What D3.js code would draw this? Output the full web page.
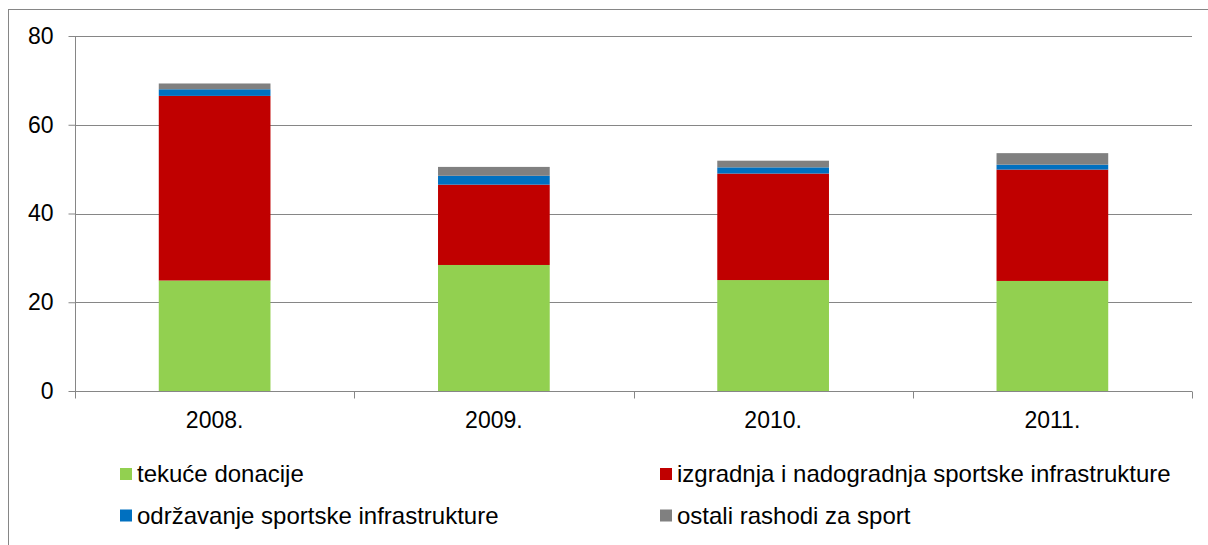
<!DOCTYPE html>
<html><head><meta charset="utf-8">
<script src="https://cdn.jsdelivr.net/npm/d3@7"></script>
<style>body{margin:0;background:#fff;overflow:hidden}svg{display:block;font-family:"Liberation Sans",Arial,sans-serif}</style>
</head><body><svg id="c" width="1208" height="545"></svg>
<script>
const categories = ["2008.", "2009.", "2010.", "2011."];
const seriesNames = ["tekuće donacije", "izgradnja i nadogradnja sportske infrastrukture", "održavanje sportske infrastrukture", "ostali rashodi za sport"];
const tekuce = [24.9, 28.4, 25.0, 24.8];
const izgradnja = [41.6, 18.1, 24.0, 25.1];
const odrzavanje = [1.5, 2.0, 1.4, 1.1];
const ostali = [1.3, 2.0, 1.5, 2.6];
const colors = ["#92D050", "#C00000", "#0070C0", "#808080"];
const yTicks = [0, 20, 40, 60, 80];

const svg = d3.select("#c");
const xb = d3.scaleBand().domain(categories).range([75, 1192]);
const y = d3.scaleLinear().domain([0, 80]).range([391, 36]);

// outer frame (extends past the visible area)
svg.append("rect").attr("x", 8.5).attr("y", 9.5).attr("width", 1300).attr("height", 600)
  .attr("fill", "none").attr("stroke", "#868686").attr("stroke-width", 1);

// gridlines
svg.append("g").selectAll("line").data(yTicks.filter(d => d > 0)).join("line")
  .attr("x1", 75).attr("x2", 1192).attr("y1", d => Math.round(y(d)) + 0.5).attr("y2", d => Math.round(y(d)) + 0.5)
  .attr("stroke", "#868686").attr("stroke-width", 1);

// stacked bars
const data = categories.map((c, i) => ({cat: c, s0: tekuce[i], s1: izgradnja[i], s2: odrzavanje[i], s3: ostali[i]}));
const stack = d3.stack().keys(["s0", "s1", "s2", "s3"])(data);
svg.append("g").selectAll("g").data(stack).join("g").attr("fill", (d, i) => colors[i])
  .selectAll("rect").data(d => d).join("rect")
  .attr("x", d => xb(d.data.cat) + xb.bandwidth() * 0.3)
  .attr("width", xb.bandwidth() * 0.4)
  .attr("y", d => y(d[1])).attr("height", d => y(d[0]) - y(d[1]));

// y axis
const yAxis = d3.axisLeft(y).tickValues(yTicks).tickSize(7).tickPadding(15);
const gy = svg.append("g").attr("transform", "translate(75.5,0)").call(yAxis);
gy.select(".domain").attr("stroke", "#868686").attr("d", "M0,36V391");
gy.selectAll(".tick line").attr("stroke", "#868686");
gy.selectAll(".tick text").attr("font-size", 23).attr("fill", "#000").attr("font-family", "Liberation Sans, Arial, sans-serif");

// x axis
const xAxis = d3.axisBottom(xb).tickSize(0).tickPadding(20);
const gx = svg.append("g").attr("transform", "translate(0,391.5)").call(xAxis);
gx.select(".domain").attr("stroke", "#868686").attr("d", "M75,0H1192");
gx.selectAll(".tick text").attr("font-size", 23).attr("fill", "#000").attr("font-family", "Liberation Sans, Arial, sans-serif");
const bounds = categories.map(c => xb(c)).concat([xb.range()[1]]);
gx.append("g").selectAll("line").data(bounds).join("line")
  .attr("x1", d => Math.round(d) + 0.5).attr("x2", d => Math.round(d) + 0.5).attr("y1", 0).attr("y2", 7)
  .attr("stroke", "#868686");

// legend
const legendPos = [[120, 474], [660, 474], [120, 515.5], [660, 515.5]];
const lg = svg.append("g").selectAll("g").data(seriesNames).join("g")
  .attr("transform", (d, i) => `translate(${legendPos[i][0]},${legendPos[i][1]})`);
lg.append("rect").attr("x", 0).attr("y", -6).attr("width", 12).attr("height", 12).attr("fill", (d, i) => colors[i]);
lg.append("text").attr("x", 17).attr("y", 0).attr("dy", "0.35em").attr("font-size", 24).attr("fill", "#000").text(d => d);
</script></body></html>
